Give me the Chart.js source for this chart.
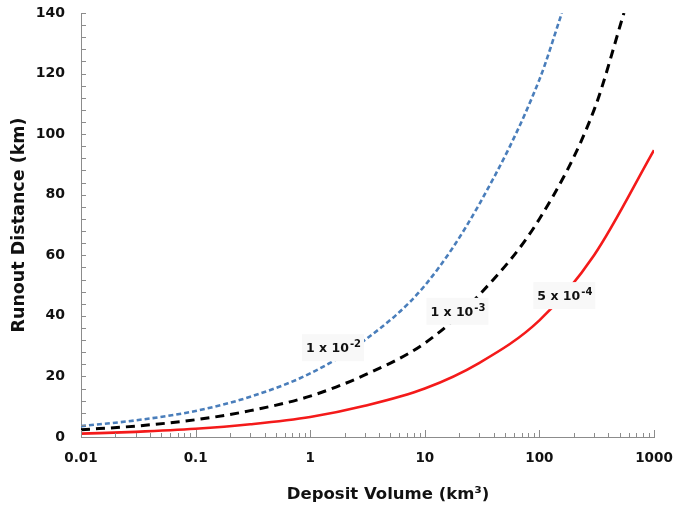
<!DOCTYPE html>
<html>
<head>
<meta charset="utf-8">
<script src="https://cdn.jsdelivr.net/npm/chart.js@4.4.1/dist/chart.umd.min.js"></script>
<style>
	html, body { margin: 0; padding: 0; background: #fff; }
</style>
</head>
<body>
<canvas id="runout-chart" width="673" height="508"></canvas>
<script>
// Axis ticks
const volumeTicks = [0.01, 0.1, 1, 10, 100, 1000];
const volumeTickLabels = ['0.01', '0.1', '1', '10', '100', '1000'];
const runoutTicks = [0, 20, 40, 60, 80, 100, 120, 140];

// Series (volume in km3, runout in km)
const volume1e2 = [0.01, 0.03, 0.1, 0.3, 1, 3, 10, 30, 100, 157];
const runout1e2 = [3.6, 5.5, 8.6, 13.3, 21, 32, 50, 77, 118, 140];

const volume1e3 = [0.01, 0.03, 0.1, 0.3, 1, 3, 10, 30, 100, 300, 547];
const runout1e3 = [2.4, 3.6, 5.7, 8.7, 13.5, 20.5, 31, 47, 72, 108, 140];

const volume5e4 = [0.01, 0.03, 0.1, 0.3, 1, 3, 10, 30, 100, 300, 1000];
const runout5e4 = [1.1, 1.7, 2.7, 4.2, 6.6, 10.3, 16, 24.5, 38.5, 60, 94.7];

// Curve labels: text, exponent, anchor (left edge / baseline) in data units
const curveLabels = ['1 x 10', '1 x 10', '5 x 10'];
const curveLabelExp = ['-2', '-3', '-4'];
const curveLabelVolume = [0.92, 11.2, 96];
const curveLabelRunout = [28, 40, 45.2];

const FONT = '"DejaVu Sans", Verdana, sans-serif';

const toPoints = (xs, ys) => xs.map((x, i) => ({ x, y: ys[i] }));

const decorations = {
	id: 'decorations',
	afterDatasetsDraw(chart) {
		const { ctx, chartArea: area } = chart;
		const xs = chart.scales.x;
		const ys = chart.scales.y;

		ctx.save();
		// inward tick marks
		ctx.strokeStyle = '#8c8c8c';
		ctx.lineWidth = 1;
		ctx.beginPath();
		for (let d = 0; d < volumeTicks.length; d++) {
			const decade = volumeTicks[d];
			const steps = d === volumeTicks.length - 1 ? 1 : 9;
			for (let m = 1; m <= steps; m++) {
				const px = Math.round(xs.getPixelForValue(decade * m)) + 0.5;
				const len = m === 1 ? 7 : 4;
				ctx.moveTo(px, area.bottom);
				ctx.lineTo(px, area.bottom - len);
			}
		}
		for (let v = 0; v <= 140; v += 4) {
			const py = Math.round(ys.getPixelForValue(v)) + 0.5;
			ctx.moveTo(area.left, py);
			ctx.lineTo(area.left + 5, py);
		}
		ctx.stroke();

		// curve labels with light boxes
		for (let i = 0; i < curveLabels.length; i++) {
			const x = xs.getPixelForValue(curveLabelVolume[i]);
			const y = ys.getPixelForValue(curveLabelRunout[i]);
			ctx.font = 'bold 12.5px ' + FONT;
			const w1 = ctx.measureText(curveLabels[i]).width;
			ctx.font = 'bold 10px ' + FONT;
			const w2 = ctx.measureText(curveLabelExp[i]).width;
			ctx.fillStyle = '#f8f8f8';
			ctx.fillRect(x - 4, y - 18, w1 + w2 + 8, 27);
			ctx.fillStyle = '#111';
			ctx.textBaseline = 'alphabetic';
			ctx.textAlign = 'left';
			ctx.font = 'bold 12.5px ' + FONT;
			ctx.fillText(curveLabels[i], x, y);
			ctx.font = 'bold 10px ' + FONT;
			ctx.fillText(curveLabelExp[i], x + w1 + 1, y - 5);
		}

		// x axis title
		ctx.font = 'bold 16.5px ' + FONT;
		ctx.fillStyle = '#111';
		ctx.textAlign = 'center';
		ctx.textBaseline = 'alphabetic';
		ctx.fillText('Deposit Volume (km³)', 388, 499);
		ctx.restore();
	},
};

new Chart(document.getElementById('runout-chart'), {
	type: 'line',
	data: {
		datasets: [
			{
				label: '1 x 10-2',
				data: toPoints(volume1e2, runout1e2),
				borderColor: '#4a7ebb',
				borderWidth: 2.6,
				borderDash: [5, 3],
				pointRadius: 0,
				cubicInterpolationMode: 'monotone',
			},
			{
				label: '1 x 10-3',
				data: toPoints(volume1e3, runout1e3),
				borderColor: '#000',
				borderWidth: 3,
				borderDash: [9, 6],
				pointRadius: 0,
				cubicInterpolationMode: 'monotone',
			},
			{
				label: '5 x 10-4',
				data: toPoints(volume5e4, runout5e4),
				borderColor: '#f41a1a',
				borderWidth: 2.6,
				pointRadius: 0,
				cubicInterpolationMode: 'monotone',
			},
		],
	},
	options: {
		responsive: false,
		animation: false,
		layout: { padding: { top: 13, right: 19, left: 0, bottom: 0 } },
		plugins: {
			legend: { display: false },
			tooltip: { enabled: false },
		},
		scales: {
			x: {
				type: 'logarithmic',
				min: 0.01,
				max: 1000,
				afterBuildTicks: (scale) => {
					scale.ticks = volumeTicks.map((v) => ({ value: v }));
				},
				afterFit: (scale) => {
					scale.height = 71;
					scale.paddingLeft = 0;
					scale.paddingRight = 0;
				},
				ticks: {
					autoSkip: false,
					maxRotation: 0,
					padding: 13,
					color: '#111',
					font: { family: FONT, size: 13.5, weight: 'bold' },
					callback: (v) => {
						const i = volumeTicks.findIndex((t) => Math.abs(Math.log10(t) - Math.log10(v)) < 1e-6);
						return i >= 0 ? volumeTickLabels[i] : '';
					},
				},
				grid: { display: false, drawTicks: false },
				border: { display: true, color: '#8c8c8c', width: 1 },
			},
			y: {
				min: 0,
				max: 140,
				afterBuildTicks: (scale) => {
					scale.ticks = runoutTicks.map((v) => ({ value: v }));
				},
				afterFit: (scale) => {
					scale.width = 81;
					scale.paddingTop = 0;
					scale.paddingBottom = 0;
				},
				ticks: {
					autoSkip: false,
					padding: 16,
					color: '#111',
					font: { family: FONT, size: 14, weight: 'bold' },
				},
				grid: { display: false, drawTicks: false },
				border: { display: true, color: '#8c8c8c', width: 1 },
				title: {
					display: true,
					text: 'Runout Distance (km)',
					color: '#111',
					font: { family: FONT, size: 17.5, weight: 'bold' },
					padding: { top: 9, bottom: 0 },
				},
			},
		},
	},
	plugins: [decorations],
});
</script>
</body>
</html>
